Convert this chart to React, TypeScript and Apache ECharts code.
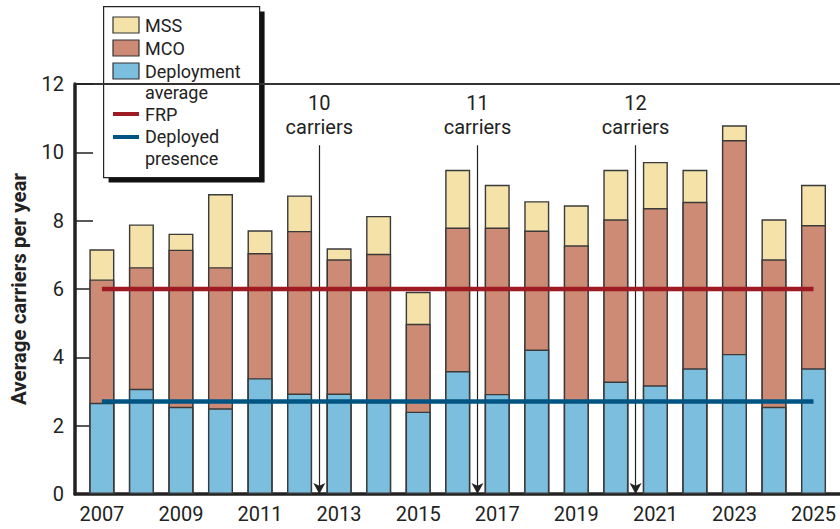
import React, { useEffect, useRef } from "react";
import * as echarts from "echarts";

const years = [2007, 2008, 2009, 2010, 2011, 2012, 2013, 2014, 2015, 2016, 2017, 2018, 2019, 2020, 2021, 2022, 2023, 2024, 2025];
const deploymentAverage = [2.67, 3.08, 2.55, 2.51, 3.39, 2.94, 2.94, 2.7, 2.41, 3.6, 2.93, 4.23, 2.72, 3.29, 3.18, 3.68, 4.1, 2.55, 3.68];
const mco = [3.61, 3.56, 4.6, 4.13, 3.66, 4.76, 3.93, 4.33, 2.57, 4.2, 4.87, 3.48, 4.56, 4.75, 5.19, 4.87, 6.26, 4.32, 4.19];
const mss = [0.88, 1.25, 0.47, 2.14, 0.67, 1.04, 0.32, 1.11, 0.94, 1.69, 1.25, 0.86, 1.17, 1.45, 1.35, 0.94, 0.43, 1.17, 1.18];
const frpLevel = 6.0;
const deployedPresenceLevel = 2.71;
const xLabelYears = [2007, 2009, 2011, 2013, 2015, 2017, 2019, 2021, 2023, 2025];
const yTicks = { min: 0, max: 12, interval: 2 };
const transitions = [
  { x: 2012.5, label: "10\ncarriers" },
  { x: 2016.5, label: "11\ncarriers" },
  { x: 2020.5, label: "12\ncarriers" },
];
const arrowTop = 10.21;

const FONT = "Roboto, 'Open Sans', sans-serif";
const C_MSS = "#f5e2a8";
const C_MCO = "#cd8b75";
const C_DEP = "#7bbede";
const C_FRP = "#9e1b23";
const C_PRES = "#005482";
const C_BORDER = "#3a3a3a";

export default function App() {
  const ref = useRef<HTMLDivElement>(null);
  useEffect(() => {
    if (!ref.current) return;
    const chart = echarts.init(ref.current, null, { renderer: "svg" });
    const barStyle = (c: string) => ({ color: c, borderColor: C_BORDER, borderWidth: 1.4 });
    // cumulative tops of the stacked segments
    const depTop = deploymentAverage.map((v) => v);
    const mcoTop = deploymentAverage.map((v, i) => v + mco[i]);
    const mssTop = deploymentAverage.map((v, i) => v + mco[i] + mss[i]);
    const legendText = (y: number, t: string) => ({
      type: "text",
      z: 101,
      style: {
        text: t,
        x: 145,
        y,
        fontSize: 18,
        lineHeight: 21,
        fontFamily: FONT,
        fill: "#222",
        verticalAlign: "middle",
      },
    });
    const option: any = {
      animation: false,
      backgroundColor: "#fff",
      grid: { left: 73, right: 0, top: 84, bottom: 35, containLabel: false },
      xAxis: [
        {
          type: "value",
          min: 2006.32,
          max: 2025.67,
          axisLine: { show: true, onZero: false, lineStyle: { color: "#222", width: 3.5 } },
          axisTick: { show: false },
          splitLine: { show: false },
          axisLabel: {
            customValues: xLabelYears,
            formatter: (v: number) => String(v),
            fontSize: 20,
            fontFamily: FONT,
            color: "#222",
            margin: 10,
          },
        },
        {
          type: "value",
          position: "top",
          min: 2006.32,
          max: 2025.67,
          axisLine: { show: true, onZero: false, lineStyle: { color: "#333", width: 2 } },
          axisTick: { show: false },
          splitLine: { show: false },
          axisLabel: { show: false },
        },
      ],
      yAxis: {
        type: "value",
        min: yTicks.min,
        max: yTicks.max,
        interval: yTicks.interval,
        name: "Average carriers per year",
        nameLocation: "middle",
        nameGap: 46,
        nameTextStyle: { fontSize: 20.5, fontWeight: "bold", fontFamily: FONT, color: "#222" },
        axisLine: { show: true, lineStyle: { color: "#222", width: 3.5 } },
        axisTick: { show: true, inside: true, length: 18, lineStyle: { color: "#222", width: 1.5 } },
        splitLine: { show: false },
        axisLabel: { fontSize: 20, fontFamily: FONT, color: "#222", margin: 11 },
      },
      series: [
        {
          name: "MSS",
          type: "bar",
          barWidth: 25,
          barGap: "-100%",
          itemStyle: barStyle(C_MSS),
          data: years.map((y, i) => [y, mssTop[i]]),
          z: 2,
          markLine: {
            silent: true,
            symbol: ["none", "arrow"],
            symbolSize: [9, 11],
            lineStyle: { color: "#222", width: 1.2, type: "solid" },
            label: {
              show: true,
              position: "start",
              distance: 6,
              formatter: (p: any) => p.name,
              fontSize: 20,
              lineHeight: 24,
              fontFamily: FONT,
              color: "#222",
            },
            data: transitions.map((t) => [
              { coord: [t.x, arrowTop], name: t.label },
              { coord: [t.x, 0] },
            ]),
          },
        },
        {
          name: "MCO",
          type: "bar",
          barWidth: 25,
          barGap: "-100%",
          itemStyle: barStyle(C_MCO),
          data: years.map((y, i) => [y, mcoTop[i]]),
          z: 3,
        },
        {
          name: "Deployment average",
          type: "bar",
          barWidth: 25,
          barGap: "-100%",
          itemStyle: barStyle(C_DEP),
          data: years.map((y, i) => [y, depTop[i]]),
          z: 4,
        },
        {
          name: "FRP",
          type: "line",
          symbol: "none",
          lineStyle: { color: C_FRP, width: 4.5 },
          data: years.map((y) => [y, frpLevel]),
          z: 5,
        },
        {
          name: "Deployed presence",
          type: "line",
          symbol: "none",
          lineStyle: { color: C_PRES, width: 4.5 },
          data: years.map((y) => [y, deployedPresenceLevel]),
          z: 5,
        },
      ],
      graphic: [
        {
          type: "group",
          left: 103,
          top: 6,
          z: 100,
          children: [
            { type: "rect", shape: { x: 5, y: 5, width: 156, height: 171 }, style: { fill: "#111" } },
            { type: "rect", shape: { x: 0, y: 0, width: 156, height: 171 }, style: { fill: "#fff", stroke: "#222", lineWidth: 1.2 } },
          ],
        },
        { type: "rect", z: 101, shape: { x: 113, y: 17, width: 26, height: 16 }, style: { fill: C_MSS, stroke: "#333", lineWidth: 1.2 } },
        { type: "rect", z: 101, shape: { x: 113, y: 40, width: 26, height: 16 }, style: { fill: C_MCO, stroke: "#333", lineWidth: 1.2 } },
        { type: "rect", z: 101, shape: { x: 113, y: 63, width: 26, height: 16 }, style: { fill: C_DEP, stroke: "#333", lineWidth: 1.2 } },
        { type: "line", z: 101, shape: { x1: 113, y1: 114, x2: 139, y2: 114 }, style: { stroke: C_FRP, lineWidth: 4 } },
        { type: "line", z: 101, shape: { x1: 113, y1: 137, x2: 139, y2: 137 }, style: { stroke: C_PRES, lineWidth: 4 } },
        legendText(25, "MSS"),
        legendText(48, "MCO"),
        legendText(71, "Deployment"),
        legendText(92.4, "average"),
        legendText(114, "FRP"),
        legendText(136, "Deployed"),
        legendText(158, "presence"),
      ],
    };
    chart.setOption(option);
    return () => chart.dispose();
  }, []);
  return <div ref={ref} style={{ position: "fixed", left: 0, top: 0, width: 840, height: 529 }} />;
}
